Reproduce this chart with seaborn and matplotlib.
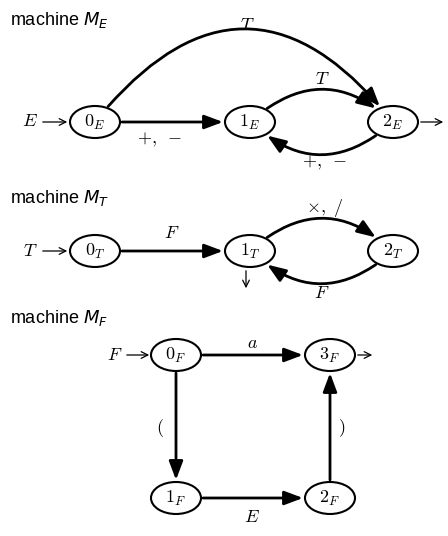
import matplotlib
matplotlib.use("Agg")
import matplotlib.pyplot as plt
import seaborn as sns
from matplotlib.patches import Ellipse, FancyArrowPatch

sns.set_theme(style="white")
plt.rcParams["font.family"] = ["Liberation Sans", "DejaVu Sans"]
plt.rcParams["mathtext.fontset"] = "cm"
plt.rcParams["text.color"] = "black"

# machine titles and states
titles = [r"machine $M_E$", r"machine $M_T$", r"machine $M_F$"]
states_E = [r"$0_E$", r"$1_E$", r"$2_E$"]
states_T = [r"$0_T$", r"$1_T$", r"$2_T$"]
states_F = [r"$0_F$", r"$1_F$", r"$2_F$", r"$3_F$"]
# transitions: (from, to, label, curvature)
edges_E = [(0, 1, r"$+,\ -$", 0.0), (0, 2, r"$T$", -0.62), (1, 2, r"$T$", -0.45), (2, 1, r"$+,\ -$", -0.45)]
edges_T = [(0, 1, r"$F$", 0.0), (1, 2, r"$\times,\ /$", -0.45), (2, 1, r"$F$", -0.45)]
edges_F = [(0, 3, r"$a$", 0.0), (0, 1, r"$($", 0.0), (1, 2, r"$E$", 0.0), (2, 3, r"$)$", 0.0)]

fig = plt.figure(figsize=(4.48, 5.36), dpi=100)
ax = fig.add_axes([0, 0, 1, 1])
ax.set_xlim(0, 448)
ax.set_ylim(536, 0)
ax.axis("off")

def node(x, y, lab):
    e = Ellipse((x, y), 50, 32, fill=False, lw=1.5, ec="black")
    ax.add_patch(e)
    ax.text(x, y, lab, ha="center", va="center", fontsize=13)
    return e

def arrow(a, b, rad, lw=2.0):
    p = FancyArrowPatch(a.center, b.center, patchA=a, patchB=b,
                        connectionstyle=f"arc3,rad={rad}",
                        arrowstyle="-|>,head_length=0.8,head_width=0.3",
                        mutation_scale=14, lw=lw, color="black")
    ax.add_patch(p)

def thin(x0, y0, x1, y1):
    ax.annotate("", xy=(x1, y1), xytext=(x0, y0),
                arrowprops=dict(arrowstyle="->", lw=0.9, color="black"))

for t, y in zip(titles, [20, 198, 318]):
    ax.text(10, y, t, fontsize=13, va="center", math_fontfamily="dejavusans")

# M_E
pos_E = [(95, 122), (250, 122), (393, 122)]
nE = [node(x, y, s) for (x, y), s in zip(pos_E, states_E)]
for i, j, lab, r in edges_E:
    arrow(nE[i], nE[j], r)
ax.text(30, 122, r"$E$", ha="center", va="center", fontsize=13)
thin(40, 122, 70, 122)
thin(418, 122, 446, 122)
label_pos_E = [(160, 140), (247, 26), (322, 80), (325, 163)]
for (i, j, lab, r), (x, y) in zip(edges_E, label_pos_E):
    ax.text(x, y, lab, ha="center", va="center", fontsize=13)

# M_T
pos_T = [(95, 251), (250, 251), (393, 251)]
nT = [node(x, y, s) for (x, y), s in zip(pos_T, states_T)]
for i, j, lab, r in edges_T:
    arrow(nT[i], nT[j], r)
ax.text(30, 251, r"$T$", ha="center", va="center", fontsize=13)
thin(40, 251, 70, 251)
thin(246, 268, 246, 291)
label_pos_T = [(172, 233), (325, 208), (322, 293)]
for (i, j, lab, r), (x, y) in zip(edges_T, label_pos_T):
    ax.text(x, y, lab, ha="center", va="center", fontsize=13)

# M_F
pos_F = [(176, 355), (176, 498), (330, 498), (330, 355)]
nF = [node(x, y, s) for (x, y), s in zip(pos_F, states_F)]
for i, j, lab, r in edges_F:
    arrow(nF[i], nF[j], r)
ax.text(115, 355, r"$F$", ha="center", va="center", fontsize=13)
thin(124, 355, 152, 355)
thin(355, 355, 375, 355)
label_pos_F = [(252, 343), (160, 428), (252, 518), (342, 428)]
for (i, j, lab, r), (x, y) in zip(edges_F, label_pos_F):
    ax.text(x, y, lab, ha="center", va="center", fontsize=13)

fig.savefig("out.png", dpi=100)
